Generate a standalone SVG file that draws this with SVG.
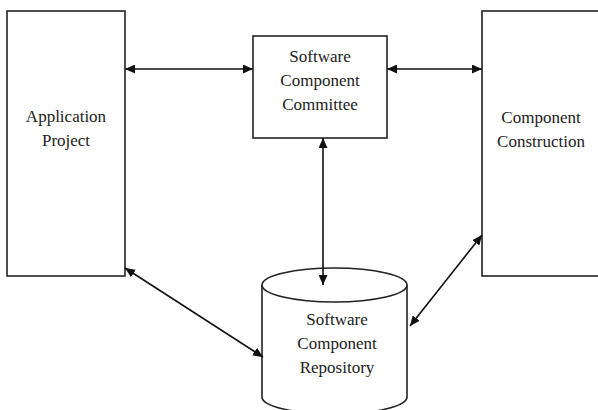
<svg xmlns="http://www.w3.org/2000/svg" width="598" height="410" viewBox="0 0 598 410">
<defs>
<style>
.box{fill:#fff;stroke:#222;stroke-width:1.6}
.lbl{font-family:"Liberation Serif","Times New Roman",serif;font-size:17px;fill:#222;text-anchor:middle}
.con{stroke:#111;stroke-width:1.6;fill:none;marker-start:url(#ah);marker-end:url(#ah)}
</style>
<marker id="ah" viewBox="0 0 10 10" refX="10" refY="5" markerWidth="10" markerHeight="9" markerUnits="userSpaceOnUse" orient="auto-start-reverse" preserveAspectRatio="none">
<path d="M0,0 L10,5 L0,10 z" fill="#111"/>
</marker>
</defs>
<rect width="598" height="410" fill="#fff"/>
<g id="application-project">
<rect class="box" x="7" y="11" width="118" height="265"/>
<text class="lbl" x="66" y="122">Application</text>
<text class="lbl" x="66" y="146">Project</text>
</g>
<g id="committee">
<rect class="box" x="253" y="36" width="134" height="102"/>
<text class="lbl" x="320" y="62">Software</text>
<text class="lbl" x="320" y="86">Component</text>
<text class="lbl" x="320" y="110">Committee</text>
</g>
<g id="component-construction">
<rect class="box" x="482" y="11" width="130" height="265"/>
<text class="lbl" x="541" y="123">Component</text>
<text class="lbl" x="541" y="147">Construction</text>
</g>
<g id="repository">
<path class="box" d="M262,285 L262,397 A72.5,17 0 0 0 407,397 L407,285"/>
<ellipse class="box" cx="334.5" cy="285" rx="72.5" ry="17"/>
<text class="lbl" x="337" y="325">Software</text>
<text class="lbl" x="337" y="349">Component</text>
<text class="lbl" x="337" y="373">Repository</text>
</g>
<g id="connectors">
<line class="con" x1="125" y1="69" x2="253" y2="69"/>
<line class="con" x1="387" y1="69" x2="482" y2="69"/>
<line class="con" x1="323" y1="138" x2="323" y2="285"/>
<line class="con" x1="125" y1="268" x2="263" y2="357"/>
<line class="con" x1="482" y1="235" x2="410" y2="326"/>
</g>
</svg>
